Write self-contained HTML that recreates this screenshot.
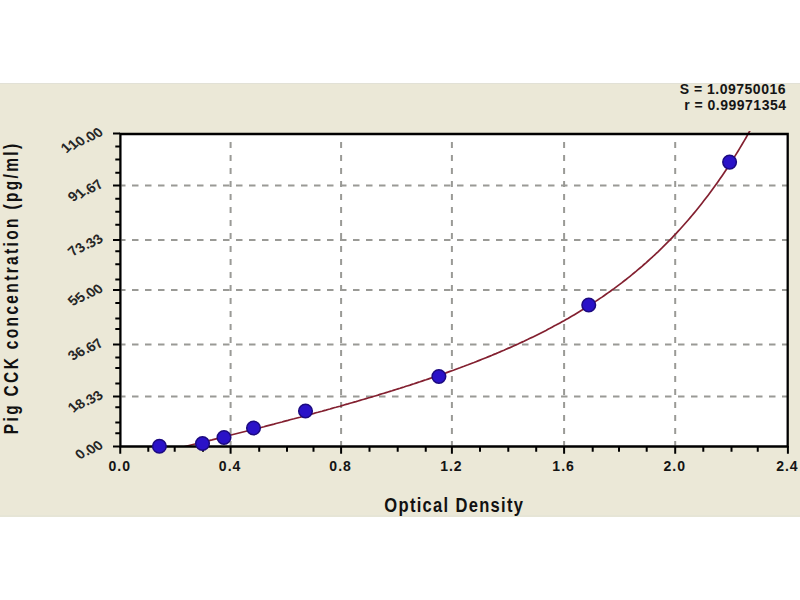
<!DOCTYPE html>
<html><head><meta charset="utf-8"><style>
html,body{margin:0;padding:0;background:#fff;width:800px;height:600px;overflow:hidden}
svg{display:block}
text{font-family:"Liberation Sans",sans-serif}
.tl{font-size:14px;font-weight:bold;fill:#141414;letter-spacing:1px}
.yl{font-size:14px;font-weight:bold;fill:#262626}
.st{font-size:14px;font-weight:bold;fill:#151515;letter-spacing:0.5px}
.xt{font-size:18px;font-weight:bold;fill:#111;letter-spacing:1.41px}
.yt{font-size:18px;font-weight:bold;fill:#111;letter-spacing:2.74px}
</style></head><body>
<svg width="800" height="600" viewBox="0 0 800 600">
<rect x="0" y="83" width="800" height="434" fill="#EBE8D7"/>
<rect x="0" y="83" width="800" height="1" fill="#E2E1D6"/>
<rect x="0" y="515.5" width="800" height="1" fill="#E2E1D6"/>
<rect x="120.4" y="134.0" width="667.3000000000001" height="312.5" fill="#fff"/>
<line x1="121.5" y1="185.6" x2="787" y2="185.6" stroke="#9a9a96" stroke-width="2" stroke-dasharray="6.5 6.5" stroke-dashoffset="2.5"/>
<line x1="121.5" y1="240.1" x2="787" y2="240.1" stroke="#9a9a96" stroke-width="2" stroke-dasharray="6.5 6.5" stroke-dashoffset="2.5"/>
<line x1="121.5" y1="290.0" x2="787" y2="290.0" stroke="#9a9a96" stroke-width="2" stroke-dasharray="6.5 6.5" stroke-dashoffset="2.5"/>
<line x1="121.5" y1="344.4" x2="787" y2="344.4" stroke="#9a9a96" stroke-width="2" stroke-dasharray="6.5 6.5" stroke-dashoffset="2.5"/>
<line x1="121.5" y1="396.5" x2="787" y2="396.5" stroke="#9a9a96" stroke-width="2" stroke-dasharray="6.5 6.5" stroke-dashoffset="2.5"/>
<line x1="230.6" y1="134.6" x2="230.6" y2="445.5" stroke="#9a9a96" stroke-width="2" stroke-dasharray="6 7" stroke-dashoffset="-7.4"/>
<line x1="341.1" y1="134.6" x2="341.1" y2="445.5" stroke="#9a9a96" stroke-width="2" stroke-dasharray="6 7" stroke-dashoffset="-7.4"/>
<line x1="451.9" y1="134.6" x2="451.9" y2="445.5" stroke="#9a9a96" stroke-width="2" stroke-dasharray="6 7" stroke-dashoffset="-7.4"/>
<line x1="564.1" y1="134.6" x2="564.1" y2="445.5" stroke="#9a9a96" stroke-width="2" stroke-dasharray="6 7" stroke-dashoffset="-7.4"/>
<line x1="675.2" y1="134.6" x2="675.2" y2="445.5" stroke="#9a9a96" stroke-width="2" stroke-dasharray="6 7" stroke-dashoffset="-7.4"/>
<clipPath id="pc"><rect x="121" y="131" width="667" height="315.5"/></clipPath>
<polyline points="184,446.8 186,446.3 188,445.8 190,445.3 192,444.8 194,444.3 196,443.8 198,443.3 200,442.8 202,442.3 204,441.8 206,441.3 208,440.8 210,440.3 212,439.9 214,439.4 216,438.9 218,438.4 220,437.9 222,437.3 224,436.8 226,436.3 228,435.8 230,435.3 232,434.8 234,434.3 236,433.8 238,433.3 240,432.8 242,432.3 244,431.8 246,431.3 248,430.8 250,430.3 252,429.7 254,429.2 256,428.7 258,428.2 260,427.7 262,427.2 264,426.7 266,426.1 268,425.6 270,425.1 272,424.6 274,424.1 276,423.5 278,423.0 280,422.5 282,422.0 284,421.4 286,420.9 288,420.4 290,419.8 292,419.3 294,418.8 296,418.2 298,417.7 300,417.2 302,416.6 304,416.1 306,415.5 308,415.0 310,414.5 312,413.9 314,413.4 316,412.8 318,412.3 320,411.7 322,411.2 324,410.6 326,410.1 328,409.5 330,409.0 332,408.4 334,407.8 336,407.3 338,406.7 340,406.2 342,405.6 344,405.0 346,404.4 348,403.9 350,403.3 352,402.7 354,402.1 356,401.6 358,401.0 360,400.4 362,399.8 364,399.2 366,398.6 368,398.0 370,397.5 372,396.9 374,396.3 376,395.7 378,395.1 380,394.4 382,393.8 384,393.2 386,392.6 388,392.0 390,391.4 392,390.8 394,390.1 396,389.5 398,388.9 400,388.3 402,387.6 404,387.0 406,386.3 408,385.7 410,385.1 412,384.4 414,383.8 416,383.1 418,382.4 420,381.8 422,381.1 424,380.4 426,379.8 428,379.1 430,378.4 432,377.7 434,377.1 436,376.4 438,375.7 440,375.0 442,374.3 444,373.6 446,372.9 448,372.1 450,371.4 452,370.7 454,370.0 456,369.2 458,368.5 460,367.8 462,367.0 464,366.3 466,365.5 468,364.8 470,364.0 472,363.2 474,362.5 476,361.7 478,360.9 480,360.1 482,359.3 484,358.5 486,357.7 488,356.9 490,356.1 492,355.3 494,354.4 496,353.6 498,352.7 500,351.9 502,351.0 504,350.2 506,349.3 508,348.4 510,347.6 512,346.7 514,345.8 516,344.9 518,344.0 520,343.0 522,342.1 524,341.2 526,340.2 528,339.3 530,338.3 532,337.4 534,336.4 536,335.4 538,334.4 540,333.4 542,332.4 544,331.4 546,330.4 548,329.3 550,328.3 552,327.2 554,326.1 556,325.1 558,324.0 560,322.9 562,321.8 564,320.7 566,319.5 568,318.4 570,317.2 572,316.1 574,314.9 576,313.7 578,312.5 580,311.3 582,310.1 584,308.8 586,307.6 588,306.3 590,305.0 592,303.7 594,302.4 596,301.1 598,299.8 600,298.4 602,297.1 604,295.7 606,294.3 608,292.9 610,291.5 612,290.0 614,288.6 616,287.1 618,285.6 620,284.1 622,282.6 624,281.0 626,279.5 628,277.9 630,276.3 632,274.7 634,273.0 636,271.4 638,269.7 640,268.0 642,266.3 644,264.5 646,262.8 648,261.0 650,259.2 652,257.4 654,255.5 656,253.7 658,251.8 660,249.8 662,247.9 664,245.9 666,243.9 668,241.9 670,239.9 672,237.8 674,235.7 676,233.6 678,231.4 680,229.2 682,227.0 684,224.8 686,222.5 688,220.2 690,217.9 692,215.5 694,213.1 696,210.7 698,208.2 700,205.7 702,203.2 704,200.6 706,198.0 708,195.4 710,192.7 712,190.0 714,187.3 716,184.5 718,181.7 720,178.8 722,175.9 724,173.0 726,170.0 728,166.9 730,163.9 732,160.8 734,157.6 736,154.4 738,151.2 740,147.9 742,144.5 744,141.1 746,137.7 748,134.2 750,130.6" fill="none" stroke="#832030" stroke-width="1.7" clip-path="url(#pc)"/>
<path d="M120.4 134.0 H787.7 V446.5 H120.4 Z" fill="none" stroke="#000" stroke-width="2.3"/>
<path d="M113 133.6H120 M113 185.6H120 M113 240.1H120 M113 290.0H120 M113 344.4H120 M113 396.5H120 M113 446.6H120 M115.3 146.4H120 M115.3 159.5H120 M115.3 172.7H120 M115.3 198.7H120 M115.3 211.7H120 M115.3 224.7H120 M115.3 251.2H120 M115.3 264.2H120 M115.3 279.4H120 M115.3 303.1H120 M115.3 318.5H120 M115.3 329.1H120 M115.3 357.5H120 M115.3 368H120 M115.3 383.5H120 M115.3 407.2H120 M115.3 422.4H120 M115.3 433.2H120 M120.25 446V453.8 M230.6 446V453.8 M341.1 446V453.8 M451.9 446V453.8 M564.1 446V453.8 M675.2 446V453.8 M787.9 446V453.8 M148.3 446V451.8 M174.7 446V451.8 M203 446V451.8 M259.2 446V451.8 M287 446V451.8 M313.5 446V451.8 M369.5 446V451.8 M397.7 446V451.8 M425.75 446V451.8 M480 446V451.8 M508.3 446V451.8 M536.2 446V451.8 M592.7 446V451.8 M619 446V451.8 M646.7 446V451.8 M703.3 446V451.8 M731.5 446V451.8 M757.75 446V451.8" stroke="#000" stroke-width="2"/>
<circle cx="159.4" cy="446.25" r="6.8" fill="#2a12c8" stroke="#1c0a80" stroke-width="1.5"/>
<circle cx="202.5" cy="443.5" r="6.8" fill="#2a12c8" stroke="#1c0a80" stroke-width="1.5"/>
<circle cx="224" cy="437.5" r="6.8" fill="#2a12c8" stroke="#1c0a80" stroke-width="1.5"/>
<circle cx="253.5" cy="428" r="6.8" fill="#2a12c8" stroke="#1c0a80" stroke-width="1.5"/>
<circle cx="305.5" cy="411" r="6.8" fill="#2a12c8" stroke="#1c0a80" stroke-width="1.5"/>
<circle cx="438.9" cy="376.5" r="6.8" fill="#2a12c8" stroke="#1c0a80" stroke-width="1.5"/>
<circle cx="588.75" cy="305" r="6.8" fill="#2a12c8" stroke="#1c0a80" stroke-width="1.5"/>
<circle cx="729.6" cy="162.1" r="6.8" fill="#2a12c8" stroke="#1c0a80" stroke-width="1.5"/>
<text x="119.75" y="470.6" text-anchor="middle" class="tl">0.0</text>
<text x="230.1" y="470.6" text-anchor="middle" class="tl">0.4</text>
<text x="340.6" y="470.6" text-anchor="middle" class="tl">0.8</text>
<text x="451.4" y="470.6" text-anchor="middle" class="tl">1.2</text>
<text x="563.6" y="470.6" text-anchor="middle" class="tl">1.6</text>
<text x="674.7" y="470.6" text-anchor="middle" class="tl">2.0</text>
<text x="787.4" y="470.6" text-anchor="middle" class="tl">2.4</text>
<text x="0" y="0" transform="translate(69.32,151.00) rotate(-45)" text-anchor="middle" class="yl">1</text>
<text x="0" y="0" transform="translate(76.36,147.72) rotate(-45)" text-anchor="middle" class="yl">1</text>
<text x="0" y="0" transform="translate(83.40,144.44) rotate(-45)" text-anchor="middle" class="yl">0</text>
<text x="0" y="0" transform="translate(88.81,141.92) rotate(-45)" text-anchor="middle" class="yl">.</text>
<text x="0" y="0" transform="translate(94.22,139.39) rotate(-45)" text-anchor="middle" class="yl">0</text>
<text x="0" y="0" transform="translate(101.25,136.11) rotate(-45)" text-anchor="middle" class="yl">0</text>
<text x="0" y="0" transform="translate(76.36,199.72) rotate(-45)" text-anchor="middle" class="yl">9</text>
<text x="0" y="0" transform="translate(83.40,196.44) rotate(-45)" text-anchor="middle" class="yl">1</text>
<text x="0" y="0" transform="translate(88.81,193.92) rotate(-45)" text-anchor="middle" class="yl">.</text>
<text x="0" y="0" transform="translate(94.22,191.39) rotate(-45)" text-anchor="middle" class="yl">6</text>
<text x="0" y="0" transform="translate(101.25,188.11) rotate(-45)" text-anchor="middle" class="yl">7</text>
<text x="0" y="0" transform="translate(76.36,254.22) rotate(-45)" text-anchor="middle" class="yl">7</text>
<text x="0" y="0" transform="translate(83.40,250.94) rotate(-45)" text-anchor="middle" class="yl">3</text>
<text x="0" y="0" transform="translate(88.81,248.42) rotate(-45)" text-anchor="middle" class="yl">.</text>
<text x="0" y="0" transform="translate(94.22,245.89) rotate(-45)" text-anchor="middle" class="yl">3</text>
<text x="0" y="0" transform="translate(101.25,242.61) rotate(-45)" text-anchor="middle" class="yl">3</text>
<text x="0" y="0" transform="translate(76.36,304.12) rotate(-45)" text-anchor="middle" class="yl">5</text>
<text x="0" y="0" transform="translate(83.40,300.84) rotate(-45)" text-anchor="middle" class="yl">5</text>
<text x="0" y="0" transform="translate(88.81,298.32) rotate(-45)" text-anchor="middle" class="yl">.</text>
<text x="0" y="0" transform="translate(94.22,295.79) rotate(-45)" text-anchor="middle" class="yl">0</text>
<text x="0" y="0" transform="translate(101.25,292.51) rotate(-45)" text-anchor="middle" class="yl">0</text>
<text x="0" y="0" transform="translate(76.36,358.52) rotate(-45)" text-anchor="middle" class="yl">3</text>
<text x="0" y="0" transform="translate(83.40,355.24) rotate(-45)" text-anchor="middle" class="yl">6</text>
<text x="0" y="0" transform="translate(88.81,352.72) rotate(-45)" text-anchor="middle" class="yl">.</text>
<text x="0" y="0" transform="translate(94.22,350.19) rotate(-45)" text-anchor="middle" class="yl">6</text>
<text x="0" y="0" transform="translate(101.25,346.91) rotate(-45)" text-anchor="middle" class="yl">7</text>
<text x="0" y="0" transform="translate(76.36,410.62) rotate(-45)" text-anchor="middle" class="yl">1</text>
<text x="0" y="0" transform="translate(83.40,407.34) rotate(-45)" text-anchor="middle" class="yl">8</text>
<text x="0" y="0" transform="translate(88.81,404.82) rotate(-45)" text-anchor="middle" class="yl">.</text>
<text x="0" y="0" transform="translate(94.22,402.29) rotate(-45)" text-anchor="middle" class="yl">3</text>
<text x="0" y="0" transform="translate(101.25,399.01) rotate(-45)" text-anchor="middle" class="yl">3</text>
<text x="0" y="0" transform="translate(83.40,457.44) rotate(-45)" text-anchor="middle" class="yl">0</text>
<text x="0" y="0" transform="translate(88.81,454.92) rotate(-45)" text-anchor="middle" class="yl">.</text>
<text x="0" y="0" transform="translate(94.22,452.39) rotate(-45)" text-anchor="middle" class="yl">0</text>
<text x="0" y="0" transform="translate(101.25,449.11) rotate(-45)" text-anchor="middle" class="yl">0</text>
<text x="786" y="93.6" text-anchor="end" class="st">S = 1.09750016</text>
<text x="786.5" y="110.2" text-anchor="end" class="st">r = 0.99971354</text>
<text x="0" y="0" transform="translate(384.3,512.3) scale(0.92,1.12)" class="xt">Optical Density</text>
<text x="0" y="0" transform="translate(18.0,434.2) rotate(-90) scale(0.86,1.13)" class="yt">Pig CCK concentration (pg/ml)</text>
</svg>
</body></html>
